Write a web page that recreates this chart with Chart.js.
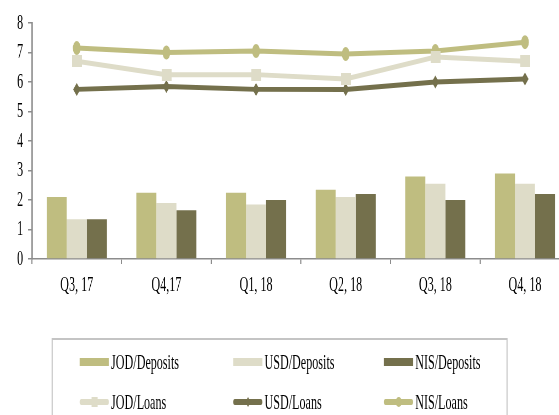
<!DOCTYPE html>
<html>
<head>
<meta charset="utf-8">
<script src="https://cdn.jsdelivr.net/npm/chart.js@4/dist/chart.umd.min.js"></script>
<style>
  html, body { margin: 0; padding: 0; background: #fff; overflow: hidden; width: 559px; height: 415px; }
  /* the whole figure is laid out wide and then condensed horizontally */
  #stage { position: absolute; left: 0; top: 0; width: 1050px; height: 415px; transform: scaleX(0.55); transform-origin: 0 0; }
  #chart { position: absolute; left: 0; top: 0; }
  #legend { position: absolute; left: 94px; top: 338px; width: 829px; height: 110px; border: 2px solid #c4c4c4; box-sizing: border-box;
            font-family: "Liberation Serif", "Times New Roman", serif; font-size: 22px; color: #000; }
  .item { position: absolute; display: flex; align-items: center; height: 26px; white-space: nowrap; }
  .sw { position: relative; width: 53px; height: 26px; margin-right: 4px; flex: none; }
  .sw .bar { position: absolute; left: 0; right: 0; top: 9px; height: 8px; }
  .sw .line { position: absolute; left: 0; right: 0; top: 10px; height: 6px; border-radius: 3px; }
  .sw .mk { position: absolute; left: 50%; top: 50%; }
</style>
</head>
<body>
<div id="stage">
  <canvas id="chart" width="1050" height="300"></canvas>
  <div id="legend"></div>
</div>
<script>
// Quarterly rates by currency (%)
const categories  = ['Q3, 17', 'Q4,17', 'Q1, 18', 'Q2, 18', 'Q3, 18', 'Q4, 18'];
const jodDeposits = [2.1, 2.25, 2.25, 2.35, 2.8, 2.9];
const usdDeposits = [1.35, 1.9, 1.85, 2.1, 2.55, 2.55];
const nisDeposits = [1.35, 1.65, 2.0, 2.2, 2.0, 2.2];
const jodLoans    = [6.7, 6.25, 6.25, 6.1, 6.85, 6.7];
const usdLoans    = [5.75, 5.85, 5.75, 5.75, 6.0, 6.1];
const nisLoans    = [7.15, 7.0, 7.05, 6.95, 7.05, 7.35];
const yTicks      = [0, 1, 2, 3, 4, 5, 6, 7, 8];

const OLIVE = '#bfbd80';
const PALE  = '#dedcc8';
const DARK  = '#74704c';

// wide square marker for the JOD loans line
const squareMark = document.createElement('canvas');
squareMark.width = 18; squareMark.height = 12;
(function () {
  const c = squareMark.getContext('2d');
  c.fillStyle = PALE; c.fillRect(0, 0, 18, 12);
})();

Chart.defaults.font.family = "'Liberation Serif', 'Times New Roman', serif";
Chart.defaults.font.size = 22;
Chart.defaults.color = '#000';

const barDs = (label, data, color) => ({
  type: 'bar', label, data, backgroundColor: color, borderWidth: 0,
  categoryPercentage: 0.67, barPercentage: 1.0, order: 2
});
const lineDs = (label, data, color, pointStyle, radius) => ({
  type: 'line', label, data, borderColor: color, backgroundColor: color, borderWidth: 5,
  pointStyle, pointRadius: radius, pointBackgroundColor: color, pointBorderWidth: 0,
  tension: 0, fill: false, order: 1, markerKind: pointStyle
});

const chart = new Chart(document.getElementById('chart'), {
  type: 'bar',
  data: {
    labels: categories,
    datasets: [
      barDs('JOD/Deposits', jodDeposits, OLIVE),
      barDs('USD/Deposits', usdDeposits, PALE),
      barDs('NIS/Deposits', nisDeposits, DARK),
      lineDs('JOD/Loans', jodLoans, PALE, squareMark, 6),
      lineDs('USD/Loans', usdLoans, DARK, 'rectRot', 6.5),
      lineDs('NIS/Loans', nisLoans, OLIVE, 'circle', 7)
    ]
  },
  options: {
    responsive: false,
    animation: false,
    events: [],
    layout: { padding: { left: 0, right: 14, top: 23, bottom: 0 } },
    plugins: { legend: { display: false }, tooltip: { enabled: false } },
    scales: {
      x: {
        offset: true,
        grid: { offset: true, drawOnChartArea: false, drawTicks: true, tickLength: 5, color: '#8c8c8c', lineWidth: 2 },
        border: { display: true, color: '#8c8c8c', width: 1.5 },
        ticks: { padding: 8, maxRotation: 0, autoSkip: false },
        afterFit: s => { s.height = 41; }
      },
      y: {
        min: yTicks[0], max: yTicks[yTicks.length - 1],
        afterBuildTicks: s => { s.ticks = yTicks.map(v => ({ value: v })); },
        grid: { drawOnChartArea: false, drawTicks: true, tickLength: 7, color: '#8c8c8c', lineWidth: 1.5 },
        border: { display: true, color: '#8c8c8c', width: 2.7 },
        ticks: { padding: 9 },
        afterFit: s => { s.width = 58; }
      }
    }
  }
});

// Legend built from the chart's datasets: three columns, two rows
(function buildLegend() {
  const box = document.getElementById('legend');
  const colLeft = [49, 328, 602];
  const rowTop = [9, 49];
  chart.data.datasets.forEach((ds, i) => {
    const item = document.createElement('div');
    item.className = 'item';
    item.style.left = colLeft[i % 3] + 'px';
    item.style.top = rowTop[Math.floor(i / 3)] + 'px';
    const sw = document.createElement('div');
    sw.className = 'sw';
    if (ds.type === 'bar') {
      const b = document.createElement('div');
      b.className = 'bar'; b.style.background = ds.backgroundColor;
      sw.appendChild(b);
    } else {
      const l = document.createElement('div');
      l.className = 'line'; l.style.background = ds.borderColor;
      sw.appendChild(l);
      const m = document.createElement('div');
      m.className = 'mk'; m.style.background = ds.borderColor;
      if (ds.markerKind === 'circle') {
        m.style.width = '11px'; m.style.height = '10px'; m.style.borderRadius = '50%';
        m.style.transform = 'translate(-50%,-50%)';
      } else if (ds.markerKind === 'rectRot') {
        m.style.width = '7px'; m.style.height = '7px';
        m.style.transform = 'translate(-50%,-50%) rotate(45deg)';
      } else {
        m.style.width = '11px'; m.style.height = '10px';
        m.style.transform = 'translate(-50%,-50%)';
      }
      sw.appendChild(m);
    }
    const t = document.createElement('span');
    t.textContent = ds.label;
    item.appendChild(sw);
    item.appendChild(t);
    box.appendChild(item);
  });
})();
</script>
</body>
</html>
